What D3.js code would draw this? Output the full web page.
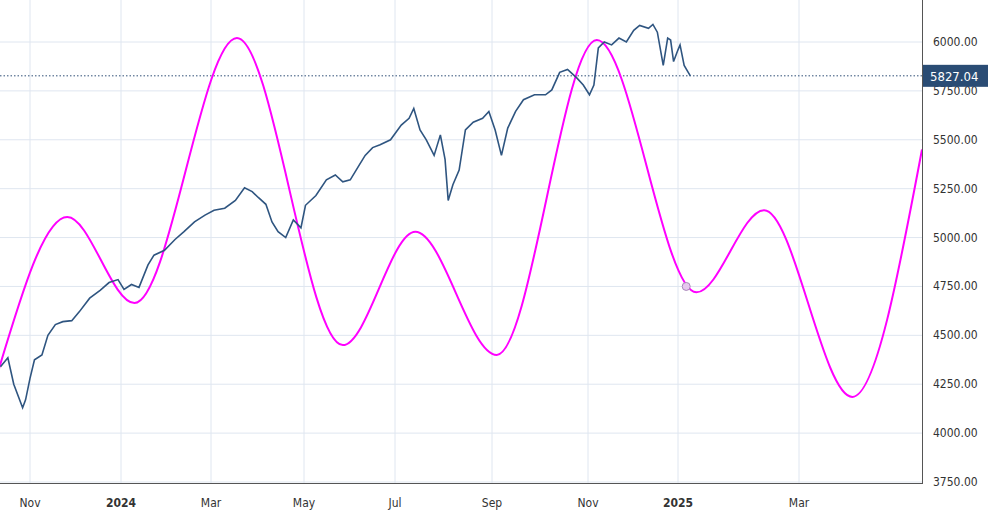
<!DOCTYPE html>
<html><head><meta charset="utf-8">
<script src="https://cdn.jsdelivr.net/npm/d3@7"></script>
<style>body{margin:0;background:#fff}text{font-family:"DejaVu Sans Condensed","Liberation Sans Narrow",sans-serif}</style>
</head><body><svg id="c" width="988" height="525"></svg>
<script>
const priceDates=["2023-10-12","2023-10-17","2023-10-21","2023-10-27","2023-10-29","2023-11-01","2023-11-04","2023-11-09","2023-11-13","2023-11-18","2023-11-23","2023-11-29","2023-12-04","2023-12-11","2023-12-18","2023-12-24","2023-12-30","2024-01-03","2024-01-08","2024-01-13","2024-01-19","2024-01-23","2024-01-30","2024-02-06","2024-02-12","2024-02-19","2024-02-26","2024-03-03","2024-03-10","2024-03-17","2024-03-23","2024-03-28","2024-04-01","2024-04-06","2024-04-10","2024-04-14","2024-04-19","2024-04-24","2024-04-29","2024-05-02","2024-05-09","2024-05-16","2024-05-22","2024-05-27","2024-06-01","2024-06-07","2024-06-11","2024-06-16","2024-06-21","2024-06-28","2024-07-05","2024-07-10","2024-07-13","2024-07-17","2024-07-21","2024-07-26","2024-07-30","2024-08-02","2024-08-04","2024-08-07","2024-08-11","2024-08-15","2024-08-20","2024-08-26","2024-08-30","2024-09-03","2024-09-07","2024-09-11","2024-09-16","2024-09-21","2024-09-28","2024-10-05","2024-10-09","2024-10-14","2024-10-19","2024-10-25","2024-10-29","2024-11-02","2024-11-05","2024-11-08","2024-11-12","2024-11-17","2024-11-22","2024-11-27","2024-12-02","2024-12-06","2024-12-12","2024-12-15","2024-12-18","2024-12-22","2024-12-25","2024-12-27","2024-12-29","2025-01-01","2025-01-02","2025-01-04","2025-01-07"];
const priceValues=[4340,4385,4250,4130,4170,4280,4375,4400,4500,4555,4570,4575,4620,4690,4730,4770,4785,4735,4760,4745,4860,4910,4935,4990,5030,5080,5115,5140,5150,5190,5255,5235,5205,5170,5080,5030,5000,5090,5050,5165,5215,5295,5320,5285,5295,5370,5420,5460,5475,5500,5575,5610,5660,5550,5500,5420,5525,5400,5190,5270,5345,5550,5590,5610,5645,5550,5420,5560,5645,5705,5730,5730,5755,5845,5860,5815,5780,5730,5780,5970,6000,5985,6020,6000,6060,6085,6070,6090,6050,5880,6020,6010,5900,5960,5985,5880,5827.04];
const cycleDates=["2023-10-11","2023-11-26","2024-01-10","2024-03-18","2024-05-27","2024-07-14","2024-09-04","2024-11-07","2025-01-10","2025-02-12","2025-03-27","2025-04-30"];
const cycleValues=[4330,5105,4665,6020,4450,5030,4400,6010,4720,5140,4185,5450];
const markerDate="2025-01-05", markerValue=4750;
const lastValue=5827.04;
const yTicks=[3750,4000,4250,4500,4750,5000,5250,5500,5750,6000];
const xTickDates=["2023-11-01","2024-01-01","2024-03-01","2024-05-01","2024-07-01","2024-09-01","2024-11-01","2025-01-01","2025-03-01"];
const xTickLabels=["Nov","2024","Mar","May","Jul","Sep","Nov","2025","Mar"];

const P=d3.timeParse("%Y-%m-%d");
const svg=d3.select("#c");
const W=922,B=483;
const x=d3.scaleTime()
 .domain(["2023-10-11","2023-11-01","2024-01-01","2024-03-01","2024-05-01","2024-07-01","2024-09-01","2024-11-01","2025-01-01","2025-03-01","2025-04-30"].map(P))
 .range([-1,30,121,211,304,395,492,588,678,799,922]);
const y=d3.scaleLinear().domain([3750,6000]).range([482,42]);

const g=svg.append("g");
g.selectAll(".hg").data(yTicks).join("line").attr("x1",0).attr("x2",W).attr("y1",d=>y(d)).attr("y2",d=>y(d)).attr("stroke","#dfe6f0");
g.selectAll(".vg").data(xTickDates).join("line").attr("y1",0).attr("y2",B).attr("x1",d=>x(P(d))).attr("x2",d=>x(P(d))).attr("stroke","#dfe6f0");

svg.append("defs").append("clipPath").attr("id","cp").append("rect").attr("width",W).attr("height",B);
const pg=svg.append("g").attr("clip-path","url(#cp)");
pg.append("line").attr("x1",0).attr("x2",W).attr("y1",y(lastValue)).attr("y2",y(lastValue)).attr("stroke","#2f4f77").attr("stroke-dasharray","1.5,2");
pg.append("path").datum(cycleDates.map((d,i)=>[P(d),cycleValues[i]]))
 .attr("d",d3.line().x(d=>x(d[0])).y(d=>y(d[1])).curve(d3.curveMonotoneX))
 .attr("fill","none").attr("stroke","#ff00ff").attr("stroke-width",2);
pg.append("path").datum(priceDates.map((d,i)=>[P(d),priceValues[i]]))
 .attr("d",d3.line().x(d=>x(d[0])).y(d=>y(d[1])))
 .attr("fill","none").attr("stroke","#2f5580").attr("stroke-width",1.6);
pg.append("circle").attr("cx",x(P(markerDate))).attr("cy",y(markerValue)).attr("r",4).attr("fill","#e6c8ee").attr("stroke","#a888b8");

svg.append("line").attr("x1",W+0.5).attr("x2",W+0.5).attr("y1",0).attr("y2",B+1).attr("stroke","#555");
svg.append("line").attr("x1",0).attr("x2",W+1).attr("y1",B+0.5).attr("y2",B+0.5).attr("stroke","#555");

svg.selectAll(".yl").data(yTicks).join("text").attr("x",933).attr("y",d=>y(d)+4).attr("font-size",12).attr("fill","#333").text(d=>d.toFixed(2));
svg.selectAll(".xl").data(xTickDates).join("text").attr("x",d=>x(P(d))).attr("y",507).attr("text-anchor","middle").attr("font-size",12)
 .attr("font-weight",(d,i)=>/^\d/.test(xTickLabels[i])?"bold":"normal").attr("fill","#333").text((d,i)=>xTickLabels[i]);
svg.append("rect").attr("x",W+1).attr("y",y(lastValue)-11).attr("width",66).attr("height",22).attr("fill","#2a4c74");
svg.append("text").attr("x",930).attr("y",y(lastValue)+5).attr("font-size",13).attr("fill","#fff").text(lastValue.toFixed(2));
</script></body></html>
